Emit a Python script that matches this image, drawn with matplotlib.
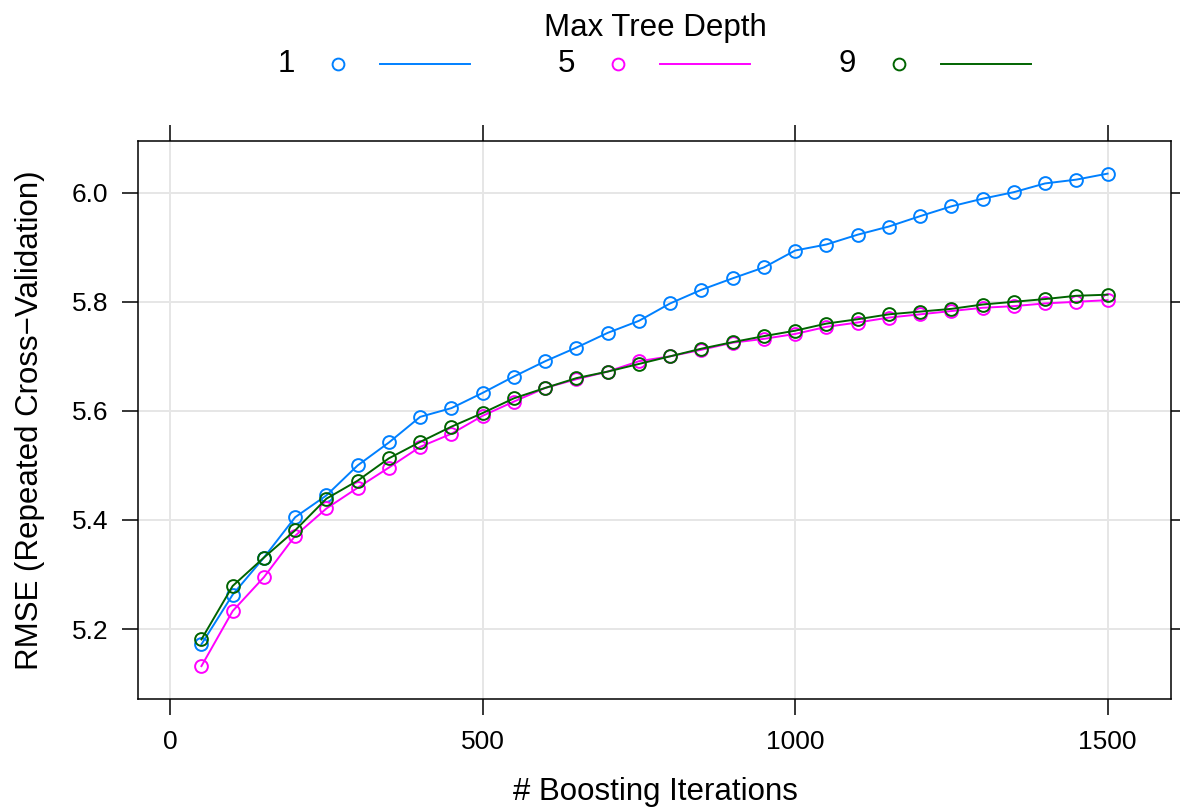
import matplotlib
matplotlib.use("Agg")
import matplotlib.pyplot as plt
from matplotlib.lines import Line2D

plt.rcParams['font.family'] = ['Liberation Sans', 'DejaVu Sans']

iterations = list(range(50, 1501, 50))
depths = ['1', '5', '9']
colors = ['#0080ff', '#ff00ff', '#006400']

rmse_d1 = [5.172, 5.263, 5.331, 5.405, 5.445, 5.500, 5.542, 5.589, 5.605, 5.633,
           5.663, 5.691, 5.716, 5.743, 5.765, 5.797, 5.822, 5.843, 5.863, 5.894,
           5.905, 5.923, 5.938, 5.957, 5.975, 5.989, 6.001, 6.017, 6.024, 6.035]
rmse_d5 = [5.132, 5.233, 5.295, 5.371, 5.421, 5.459, 5.496, 5.534, 5.558, 5.591,
           5.617, 5.642, 5.658, 5.672, 5.691, 5.700, 5.712, 5.725, 5.732, 5.741,
           5.754, 5.762, 5.771, 5.777, 5.783, 5.789, 5.792, 5.797, 5.800, 5.803]
rmse_d9 = [5.181, 5.279, 5.331, 5.381, 5.439, 5.472, 5.513, 5.543, 5.571, 5.596,
           5.623, 5.642, 5.660, 5.672, 5.686, 5.700, 5.714, 5.726, 5.737, 5.747,
           5.760, 5.768, 5.777, 5.782, 5.787, 5.795, 5.800, 5.805, 5.811, 5.813]
series = [rmse_d1, rmse_d5, rmse_d9]

xticks = [0, 500, 1000, 1500]
yticks = [5.2, 5.4, 5.6, 5.8, 6.0]

W, H = 1180, 811
fig = plt.figure(figsize=(W / 100, H / 100), dpi=100)
ax = fig.add_axes([138 / W, (H - 699) / H, 1033 / W, 558 / H])

for vals, c in zip(series, colors):
    ax.plot(iterations, vals, color=c, lw=1.4, marker='o', ms=9.2,
            mfc='none', mec=c, mew=1.4, zorder=3)

ax.set_xlim(-51.5, 1601.5)
ax.set_ylim(5.0717, 6.0948)
ax.set_xticks(xticks)
ax.set_yticks(yticks)
ax.set_yticklabels([f'{v:.1f}' for v in yticks])
ax.grid(True, color='#e6e6e6', lw=1.4, zorder=0)
ax.tick_params(direction='out', length=11.5, width=1.1, labelsize=19,
               top=True, right=True)
ax.tick_params(axis='x', pad=10.5)
ax.tick_params(axis='y', pad=10)
for s in ax.spines.values():
    s.set_linewidth(1.1)

fig.text(655 / W, 1 - 792 / H, '# Boosting Iterations', ha='center', va='center',
         fontsize=22.5)
fig.text(30 / W, 1 - 420 / H, 'RMSE (Repeated Cross\u2212Validation)', ha='center',
         va='center', rotation=90, fontsize=22.5)

# legend on top, lattice style
fig.text(655 / W, 1 - 28 / H, 'Max Tree Depth', ha='center', va='center', fontsize=22.5)
label_x = [286, 566, 847]
ly = 1 - 64 / H
for lab, c, lx in zip(depths, colors, label_x):
    fig.text(lx / W, ly, lab, ha='center', va='center', fontsize=22.5)
    fig.add_artist(Line2D([(lx + 52) / W], [ly], marker='o', ms=8.5, mfc='none',
                          mec=c, mew=1.4, transform=fig.transFigure))
    fig.add_artist(Line2D([(lx + 94) / W, (lx + 184) / W], [ly, ly],
                          color=c, lw=1.4, transform=fig.transFigure))

fig.savefig('out.png', dpi=100)
